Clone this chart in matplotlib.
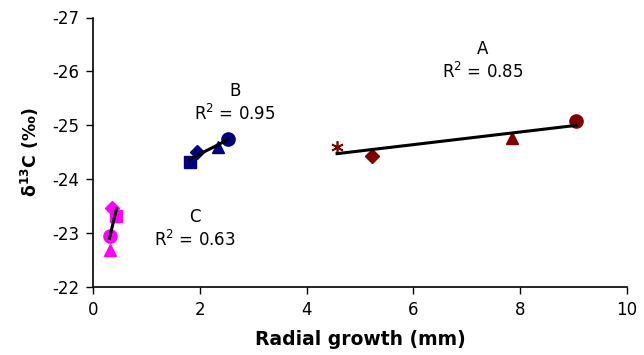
import numpy as np
import matplotlib
matplotlib.use("Agg")
import matplotlib.pyplot as plt

plt.rcParams['font.family'] = ['DejaVu Sans']
plt.rcParams['mathtext.fontset'] = 'dejavusans'
plt.rcParams['axes.unicode_minus'] = False

# group A (dark red)
a_x = [4.57, 5.22, 7.85, 9.04]
a_y = [-24.60, -24.43, -24.77, -25.08]
a_markers = [(6, 2, 0), 'D', '^', 'o']
# group B (navy)
b_x = [1.81, 1.94, 2.34, 2.53]
b_y = [-24.32, -24.51, -24.60, -24.75]
b_markers = ['s', 'D', '^', 'o']
# group C (magenta)
c_x = [0.31, 0.32, 0.36, 0.44]
c_y = [-22.69, -22.95, -23.47, -23.32]
c_markers = ['^', 'o', 'D', 's']

groups = [
    ("A", a_x, a_y, a_markers, '#800000', "0.85", (7.30, -26.42)),
    ("B", b_x, b_y, b_markers, '#000080', "0.95", (2.66, -25.64)),
    ("C", c_x, c_y, c_markers, '#FF00FF', "0.63", (1.91, -23.30)),
]

fig = plt.figure(figsize=(6.44, 3.55), dpi=100)
ax = fig.add_axes([93 / 644, 1 - 287 / 355, 534 / 644, (287 - 17.5) / 355])

for name, xs, ys, markers, color, r2, (tx, ty) in groups:
    for x, y, m in zip(xs, ys, markers):
        if m == (6, 2, 0):
            ax.plot(x, y, marker=m, color=color, markersize=9, mew=1.2,
                    linestyle='none', zorder=3)
        else:
            size = {'o': 9.5, 's': 8.5, '^': 9, 'D': 7.5}[m]
            ax.plot(x, y, marker=m, color=color, markersize=size,
                    linestyle='none', zorder=3)
    # linear trendline over the data range
    k, b = np.polyfit(xs, ys, 1)
    xx = np.array([min(xs), max(xs)])
    ax.plot(xx, k * xx + b, color='black', linewidth=2.2, zorder=4)
    ax.text(tx, ty, name, ha='center', va='center', fontsize=12)
    ax.text(tx, ty + 0.43, 'R$^2$ = ' + r2, ha='center', va='center', fontsize=12)

ax.set_xlim(0, 10)
ax.set_ylim(-22, -27)
ax.set_xticks(np.arange(0, 11, 2))
ax.set_yticks(np.arange(-27, -21, 1))
ax.tick_params(labelsize=12, direction='out', length=5, width=1, pad=5)
for s in ['top', 'right']:
    ax.spines[s].set_visible(False)
for s in ['left', 'bottom']:
    ax.spines[s].set_linewidth(1.2)

ax.set_xlabel('Radial growth (mm)', fontsize=13.5, fontweight='bold', labelpad=8)
ax.set_ylabel(r'δ$^{\mathbf{13}}$C (‰)', fontsize=12.5, fontweight='bold', labelpad=8)

fig.savefig('out.png', dpi=100)
